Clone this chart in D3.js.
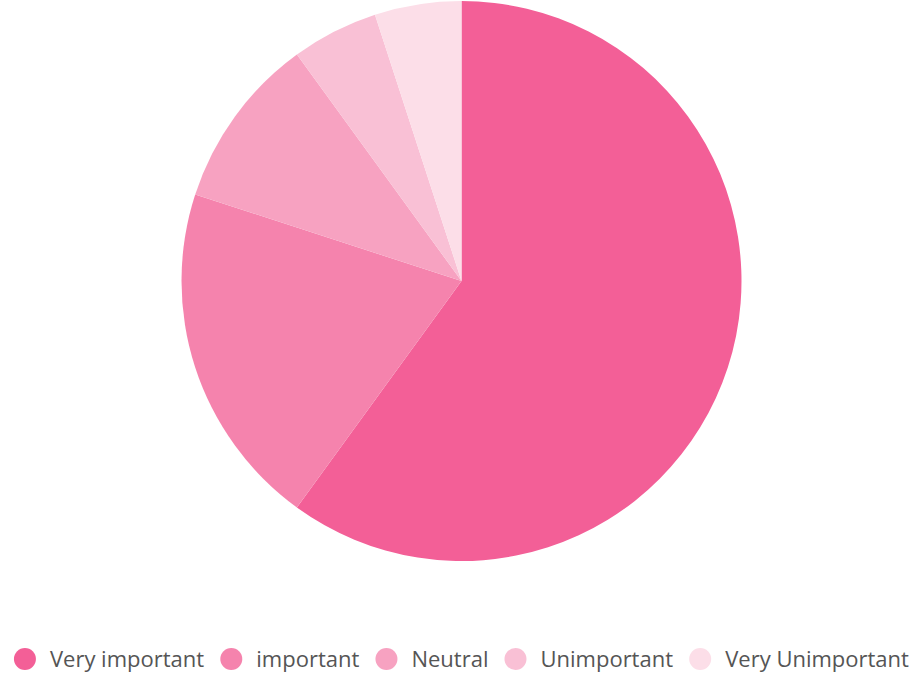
<!DOCTYPE html>
<html><head><meta charset="utf-8">
<script src="https://cdn.jsdelivr.net/npm/d3@7"></script>
<style>html,body{margin:0;padding:0;background:#fff;}svg{display:block;}</style>
</head><body>
<svg id="chart" width="924" height="673"></svg>
<script>
const categories = ["Very important", "important", "Neutral", "Unimportant", "Very Unimportant"];
const values = [60, 20, 10, 5, 5];
const colors = ["#f35f97", "#f583ad", "#f7a2c1", "#f9c0d5", "#fcdee8"];

const svg = d3.select("#chart");
const cx = 461.5, cy = 281, r = 280;

const pie = d3.pie().sort(null).value(d => d.v);
const arc = d3.arc().innerRadius(0).outerRadius(r);
const data = categories.map((c, i) => ({c, v: values[i], col: colors[i]}));

svg.append("g").attr("transform", `translate(${cx},${cy})`)
  .selectAll("path").data(pie(data)).join("path")
  .attr("d", arc).attr("fill", d => d.data.col);

// legend
const lg = svg.append("g");
const items = lg.selectAll("g").data(data).join("g");
items.append("circle").attr("r", 11).attr("cy", 0).attr("fill", d => d.col);
const texts = items.append("text").attr("x", 25).attr("y", 0).attr("dy", "0.35em")
  .attr("font-family", "'Open Sans', sans-serif").attr("font-size", 22)
  .attr("fill", "#555").text(d => d.c);

function layout() {
  const widths = [];
  texts.each(function(){ widths.push(this.getBBox().width); });
  const gap = 27;
  let total = 11;
  widths.forEach((w, i) => { total += 25 + w + (i < widths.length - 1 ? gap : 0); });
  let x = cx - total / 2 + 11;
  const xs = [];
  widths.forEach((w) => { xs.push(x); x += 25 + w + gap; });
  items.attr("transform", (d, i) => `translate(${xs[i]},659)`);
}
layout();
if (document.fonts && document.fonts.ready) document.fonts.ready.then(layout);
</script>
</body></html>
